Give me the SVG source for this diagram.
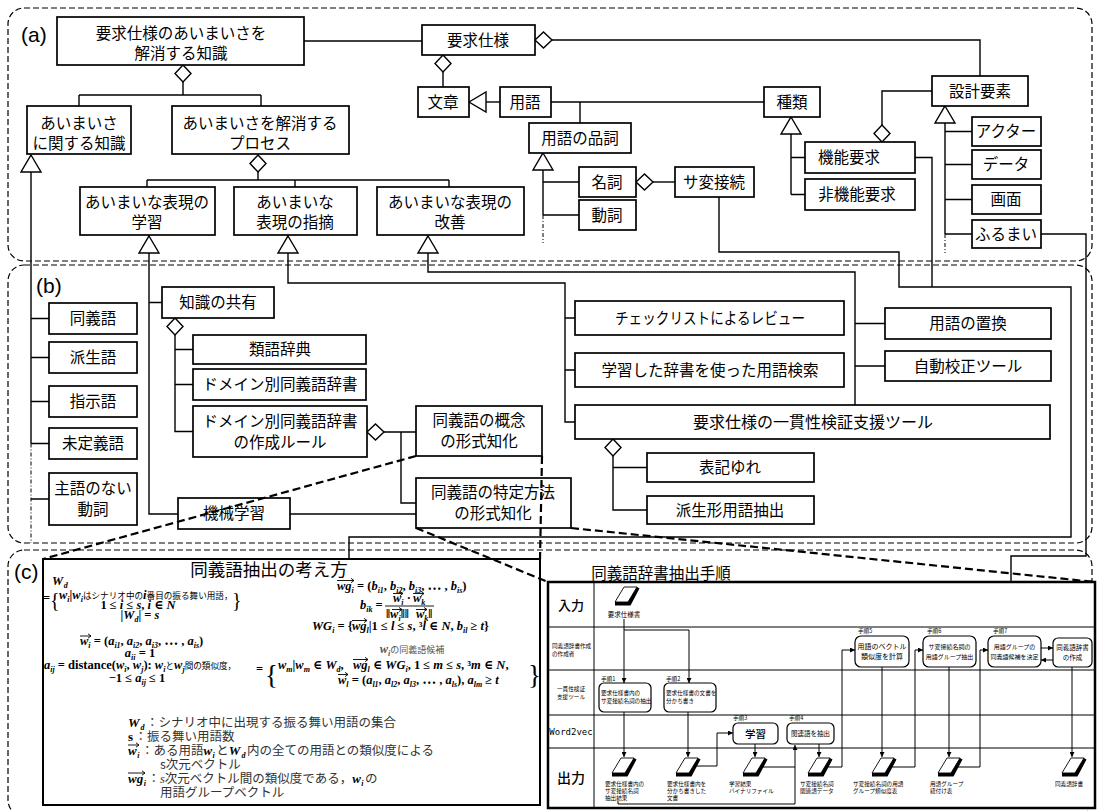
<svg xmlns="http://www.w3.org/2000/svg" width="1097" height="811" viewBox="0 0 1097 811">
<style>
.b{fill:#fff;stroke:#000;stroke-width:1.7}
.l{fill:none;stroke:#000;stroke-width:1.4}
.dd{fill:none;stroke:#000;stroke-width:1;stroke-dasharray:4 2 1 2}
.p{fill:none;stroke:#000;stroke-width:1.2;stroke-dasharray:6 3}
.cd{fill:none;stroke:#000;stroke-width:2.2;stroke-dasharray:8 4}
text{font-family:"Noto Sans CJK JP","Noto Sans",sans-serif;fill:#000}
.t{font-size:15.5px;text-anchor:middle}
.lab{font-family:"Liberation Sans",Arial,sans-serif;font-size:21px}
.m{font-family:"Liberation Serif","DejaVu Serif","Noto Sans CJK JP",serif;font-weight:bold;font-style:italic;font-size:12.5px}
.m2{font-family:"Liberation Serif","DejaVu Serif","Noto Sans CJK JP",serif;font-weight:bold;font-style:italic;font-size:13px}
.n{font-style:normal}
.s{font-size:8px}
.j{font-family:"Noto Sans CJK JP",sans-serif;font-weight:normal;font-style:normal;font-size:8.6px}
.br{font-family:"Liberation Serif","DejaVu Serif",serif;font-size:20px;font-weight:normal;font-style:normal}
.lg{font-family:"Noto Sans CJK JP",sans-serif;font-weight:normal;font-style:normal;font-size:12.5px;fill:#333}
.va{fill:none;stroke:#000;stroke-width:0.9}
.fb{fill:#fff;stroke:#000;stroke-width:1.2}
.fl{fill:none;stroke:#000;stroke-width:1}
.fa{fill:none;stroke:#000;stroke-width:1;marker-end:url(#ar)}
.ft{font-size:5.6px}
.fc{font-size:6px;text-anchor:middle}
</style>
<defs>
<path id="tri" d="M0,0 L10,17 L-10,17 Z" fill="#fff" stroke="#000" stroke-width="1.4"/>
<path id="dia" d="M0,0 L8,8.5 L0,17 L-8,8.5 Z" fill="#fff" stroke="#000" stroke-width="1.4"/>
<g id="doc"><polygon points="9,0 22,0 13,15 0,15" fill="#fff" stroke="#000" stroke-width="0.9"/><polygon points="0,15 13,15 22,0 24.5,1.5 15.5,18.5 0,18.5" fill="#000"/></g>
<marker id="ar" viewBox="0 0 10 10" refX="10" refY="5" markerWidth="5" markerHeight="5" orient="auto"><path d="M0,0 L10,5 L0,10 Z" fill="#000"/></marker>
</defs>
<rect width="1097" height="811" fill="#fff"/>

<g id="panels">
<rect class="p" x="8" y="8" width="1084" height="253" rx="16"/>
<rect class="p" x="8" y="265" width="1084" height="278" rx="16"/>
<rect class="p" x="8" y="550" width="1084" height="266" rx="16"/>
<text class="lab" x="21" y="42">(a)</text>
<text class="lab" x="36" y="293">(b)</text>
<text class="lab" x="14" y="579">(c)</text>
</g>

<g id="connectors">
<path class="l" d="M304,41 H422"/>
<path class="l" d="M552,40 H980 V76"/>
<path class="l" d="M443,72 V87"/>
<path class="l" d="M183,82 V95 M79,95 H261 M79,95 V106 M261,95 V106"/>
<path class="l" d="M31,172 V443.5 M31,318.5 H49 M31,357.5 H49 M31,401.5 H49 M31,443.5 H49 M31,499 H49"/>
<path class="dd" d="M31,443.5 V543"/>
<path class="l" d="M258,172 V180 M147,180 H449 M147,180 V187 M295,180 V187 M449,180 V187"/>
<path class="l" d="M149,253 V514 H178 M149,302.5 H162"/>
<path class="l" d="M288,253 V283 H565 V422 H575 M565,318 H575 M565,370 H575"/>
<path class="l" d="M428,253 V272 H855 V405 M855,323.5 H885 M855,366 H885"/>
<path class="l" d="M486,102 H500"/>
<path class="l" d="M551,102 H764 M580,102 V123"/>
<path class="l" d="M543,170 V215 M543,182 H579 M543,215 H579"/>
<path class="dd" d="M543,215 V243"/>
<path class="l" d="M653,182 H675"/>
<path class="l" d="M719,197 V252 H899 V287 H1071 V537 H349 V559"/>
<path class="l" d="M791,134 V194.5 M791,157.5 H805 M791,194.5 H805"/>
<path class="l" d="M932,91 H882 V125"/>
<path class="l" d="M915,157.5 H932 V287"/>
<path class="l" d="M945,123 V234 M945,131.5 H972 M945,164.5 H972 M945,199.5 H972 M945,234 H972"/>
<path class="dd" d="M945,234 V253"/>
<path class="l" d="M1041,234 H1086 V556 H1011 V582"/>
<path class="l" d="M175,335 V431.5 H193 M175,349.5 H193 M175,384.5 H193"/>
<path class="l" d="M384,432 H416 M401,432 V503 H416"/>
<path class="l" d="M290,514 H416"/>
<path class="l" d="M613,456 V510 H647 M613,467.5 H647"/>
<use href="#dia" x="183" y="65"/>
<use href="#dia" x="258" y="155"/>
<use href="#dia" x="443" y="55"/>
<use href="#dia" transform="translate(535,40) rotate(-90)"/>
<use href="#dia" transform="translate(636,182) rotate(-90)"/>
<use href="#dia" x="882" y="125"/>
<use href="#dia" x="175" y="318"/>
<use href="#dia" transform="translate(367,432) rotate(-90)"/>
<use href="#dia" x="613" y="439"/>
<use href="#tri" x="31" y="155"/>
<use href="#tri" x="149" y="236"/>
<use href="#tri" x="288" y="236"/>
<use href="#tri" x="428" y="236"/>
<use href="#tri" x="543" y="153"/>
<use href="#tri" x="791" y="117"/>
<use href="#tri" x="945" y="106"/>
<use href="#tri" transform="translate(469,102) rotate(-90)"/>
</g>

<g id="n_a1"><rect class="b" x="57" y="17" width="247" height="48"/><text class="t" x="181" y="39">要求仕様のあいまいさを<tspan x="181" dy="20">解消する知識</tspan></text></g>
<g id="n_spec"><rect class="b" x="422" y="25" width="113" height="30"/><text class="t" x="478" y="46">要求仕様</text></g>
<g id="n_a2"><rect class="b" x="27" y="106" width="104" height="48"/><text class="t" x="79" y="129">あいまいさ<tspan x="79" dy="20">に関する知識</tspan></text></g>
<g id="n_a3"><rect class="b" x="172" y="106" width="177" height="48"/><text class="t" x="260" y="129">あいまいさを解消する<tspan x="260" dy="20">プロセス</tspan></text></g>
<g id="n_learn"><rect class="b" x="80" y="187" width="135" height="48"/><text class="t" x="147" y="208">あいまいな表現の<tspan x="147" dy="20">学習</tspan></text></g>
<g id="n_point"><rect class="b" x="234" y="187" width="123" height="48"/><text class="t" x="295" y="208">あいまいな<tspan x="295" dy="20">表現の指摘</tspan></text></g>
<g id="n_improve"><rect class="b" x="377" y="187" width="147" height="48"/><text class="t" x="450" y="208">あいまいな表現の<tspan x="450" dy="20">改善</tspan></text></g>
<g id="n_sentence"><rect class="b" x="418" y="87" width="51" height="30"/><text class="t" x="443" y="108">文章</text></g>
<g id="n_term"><rect class="b" x="500" y="87" width="51" height="30"/><text class="t" x="525" y="108">用語</text></g>
<g id="n_kind"><rect class="b" x="764" y="87" width="56" height="30"/><text class="t" x="792" y="108">種類</text></g>
<g id="n_pos"><rect class="b" x="529" y="123" width="102" height="30"/><text class="t" x="580" y="144">用語の品詞</text></g>
<g id="n_noun"><rect class="b" x="579" y="167" width="57" height="30"/><text class="t" x="607" y="188">名詞</text></g>
<g id="n_verb"><rect class="b" x="579" y="200" width="57" height="30"/><text class="t" x="607" y="221">動詞</text></g>
<g id="n_sahen"><rect class="b" x="675" y="167" width="79" height="30"/><text class="t" x="714" y="188">サ変接続</text></g>
<g id="n_func"><rect class="b" x="805" y="142" width="110" height="31"/><text class="t" x="849" y="163">機能要求</text></g>
<g id="n_nonfunc"><rect class="b" x="805" y="179" width="110" height="31"/><text class="t" x="857" y="200">非機能要求</text></g>
<g id="n_design"><rect class="b" x="932" y="76" width="96" height="30"/><text class="t" x="980" y="97">設計要素</text></g>
<g id="n_actor"><rect class="b" x="972" y="117" width="69" height="29"/><text class="t" x="1006" y="137">アクター</text></g>
<g id="n_data"><rect class="b" x="972" y="150" width="69" height="29"/><text class="t" x="1006" y="170">データ</text></g>
<g id="n_screen"><rect class="b" x="972" y="185" width="69" height="29"/><text class="t" x="1006" y="205">画面</text></g>
<g id="n_behavior"><rect class="b" x="972" y="220" width="69" height="28"/><text class="t" x="1006" y="240">ふるまい</text></g>

<g id="n_syn"><rect class="b" x="49" y="303" width="88" height="31"/><text class="t" x="93" y="324">同義語</text></g>
<g id="n_deriv"><rect class="b" x="49" y="342" width="88" height="31"/><text class="t" x="93" y="363">派生語</text></g>
<g id="n_demo"><rect class="b" x="49" y="386" width="88" height="31"/><text class="t" x="93" y="407">指示語</text></g>
<g id="n_undef"><rect class="b" x="49" y="428" width="88" height="31"/><text class="t" x="93" y="449">未定義語</text></g>
<g id="n_nosubj"><rect class="b" x="49" y="473" width="88" height="52"/><text class="t" x="93" y="494">主語のない<tspan x="93" dy="21">動詞</tspan></text></g>
<g id="n_share"><rect class="b" x="162" y="287" width="112" height="31"/><text class="t" x="218" y="308">知識の共有</text></g>
<g id="n_thes"><rect class="b" x="193" y="335" width="173" height="29"/><text class="t" x="280" y="355">類語辞典</text></g>
<g id="n_domdict"><rect class="b" x="193" y="369" width="173" height="31"/><text class="t" x="280" y="390">ドメイン別同義語辞書</text></g>
<g id="n_rule"><rect class="b" x="193" y="406" width="174" height="51"/><text class="t" x="280" y="427">ドメイン別同義語辞書<tspan x="280" dy="21">の作成ルール</tspan></text></g>
<g id="n_ml"><rect class="b" x="178" y="498" width="112" height="31"/><text class="t" x="234" y="519">機械学習</text></g>
<g id="n_concept"><rect class="b" x="416" y="406" width="126" height="50"/><text class="t" x="479" y="426">同義語の概念<tspan x="479" dy="21">の形式知化</tspan></text></g>
<g id="n_method"><rect class="b" x="416" y="478" width="155" height="50"/><text class="t" x="493" y="498">同義語の特定方法<tspan x="493" dy="21">の形式知化</tspan></text></g>
<g id="n_check"><rect class="b" x="575" y="301" width="269" height="34"/><text class="t" x="710" y="324" textLength="190" lengthAdjust="spacingAndGlyphs">チェックリストによるレビュー</text></g>
<g id="n_search"><rect class="b" x="575" y="353" width="269" height="34"/><text class="t" x="710" y="376">学習した辞書を使った用語検索</text></g>
<g id="n_consist"><rect class="b" x="575" y="405" width="475" height="34"/><text class="t" x="813" y="428" style="font-size:16px">要求仕様の一貫性検証支援ツール</text></g>
<g id="n_replace"><rect class="b" x="885" y="308" width="166" height="31"/><text class="t" x="968" y="329">用語の置換</text></g>
<g id="n_autocorr"><rect class="b" x="885" y="351" width="166" height="30"/><text class="t" x="968" y="372">自動校正ツール</text></g>
<g id="n_hyoki"><rect class="b" x="647" y="453" width="167" height="29"/><text class="t" x="730" y="473">表記ゆれ</text></g>
<g id="n_hasei"><rect class="b" x="647" y="496" width="167" height="28"/><text class="t" x="730" y="516">派生形用語抽出</text></g>

<g id="n_idea">
<rect x="43" y="559" width="497" height="246" fill="#fff" stroke="#000" stroke-width="2"/>
<text x="269" y="576" style="font-size:17.5px;text-anchor:middle">同義語抽出の考え方</text>
<text class="m" x="52" y="585">W<tspan class="s" dy="3" dx="0.5">d</tspan></text>
<text class="m n" x="43" y="602">=</text>
<text class="br" x="50" y="607">{</text>
<text class="m" x="59" y="599">w<tspan class="s" dy="3">i</tspan><tspan class="n" dy="-3">|</tspan><tspan>w</tspan><tspan class="s" dy="3">i</tspan><tspan class="j" dy="-3">はシナリオ中の</tspan><tspan>i</tspan><tspan class="j">番目の振る舞い用語，</tspan></text>
<text class="br" x="232" y="607">}</text>
<text class="m" x="138" y="609" text-anchor="middle"><tspan class="n">1 ≤ </tspan>i<tspan class="n"> ≤ </tspan>s<tspan class="n">, </tspan>i<tspan class="n"> ∈ </tspan>N</text>
<text class="m" x="140" y="619" text-anchor="middle"><tspan class="n">|</tspan>W<tspan class="s" dy="3">d</tspan><tspan class="n" dy="-3">| = </tspan>s</text>

<text class="m" x="80" y="645">w<tspan class="s" dy="3">i</tspan><tspan class="n" dy="-3"> = (</tspan><tspan>a</tspan><tspan class="s" dy="3">i1</tspan><tspan class="n" dy="-3">, </tspan><tspan>a</tspan><tspan class="s" dy="3">i2</tspan><tspan class="n" dy="-3">, </tspan><tspan>a</tspan><tspan class="s" dy="3">i3</tspan><tspan class="n" dy="-3">, ⋯ , </tspan><tspan>a</tspan><tspan class="s" dy="3">is</tspan><tspan class="n" dy="-3">)</tspan></text>
<path class="va" d="M80,636 h11 m-3,-2.2 l3,2.2 l-3,2.2"/>
<text class="m" x="140" y="657" text-anchor="middle">a<tspan class="s" dy="3">ii</tspan><tspan class="n" dy="-3"> = 1</tspan></text>
<text class="m" x="44" y="669">a<tspan class="s" dy="3">ij</tspan><tspan class="n" dy="-3"> = distance(</tspan><tspan>w</tspan><tspan class="s" dy="3">i</tspan><tspan class="n" dy="-3">, </tspan><tspan>w</tspan><tspan class="s" dy="3">j</tspan><tspan class="n" dy="-3">): </tspan><tspan>w</tspan><tspan class="s" dy="3">i</tspan><tspan class="j" dy="-3">と</tspan><tspan>w</tspan><tspan class="s" dy="3">j</tspan><tspan class="j" dy="-3">間の類似度，</tspan></text>
<text class="m" x="137" y="682" text-anchor="middle"><tspan class="n">−1 ≤ </tspan>a<tspan class="s" dy="3">ij</tspan><tspan class="n" dy="-3"> ≤ 1</tspan></text>

<text class="m" x="337" y="590">wg<tspan class="s" dy="3">i</tspan><tspan class="n" dy="-3"> = (</tspan><tspan>b</tspan><tspan class="s" dy="3">i1</tspan><tspan class="n" dy="-3">, </tspan><tspan>b</tspan><tspan class="s" dy="3">i2</tspan><tspan class="n" dy="-3">, </tspan><tspan>b</tspan><tspan class="s" dy="3">i3</tspan><tspan class="n" dy="-3">, ⋯ , </tspan><tspan>b</tspan><tspan class="s" dy="3">is</tspan><tspan class="n" dy="-3">)</tspan></text>
<path class="va" d="M337,580.5 h17 m-3,-2.2 l3,2.2 l-3,2.2"/>
<text class="m" x="360" y="609">b<tspan class="s" dy="3">ik</tspan><tspan class="n" dy="-3"> =</tspan></text>
<text class="m" x="393" y="602">w<tspan class="s" dy="3">i</tspan><tspan class="n" dy="-3"> · </tspan><tspan x="413">w</tspan><tspan class="s" dy="3">k</tspan></text>
<path class="va" d="M393,593.5 h10 m-3,-2.2 l3,2.2 l-3,2.2 M413,593.5 h11 m-3,-2.2 l3,2.2 l-3,2.2"/>
<path class="va" d="M385,606 H434"/>
<text class="m" x="386" y="618"><tspan class="n">‖</tspan>w<tspan class="s" dy="3">i</tspan><tspan class="n" dy="-3">‖‖</tspan><tspan x="416">w</tspan><tspan class="s" dy="3">k</tspan><tspan class="n" dy="-3">‖</tspan></text>
<path class="va" d="M392,609.5 h10 m-3,-2 l3,2 l-3,2 M416,609.5 h11 m-3,-2 l3,2 l-3,2"/>
<text class="m" x="312" y="630">WG<tspan class="s" dy="3">i</tspan><tspan class="n" dy="-3"> = {</tspan><tspan x="352">wg</tspan><tspan class="s" dy="3">l</tspan><tspan class="n" dy="-3">|1 ≤ </tspan><tspan>l</tspan><tspan class="n"> ≤ </tspan><tspan>s</tspan><tspan class="n">, ³</tspan><tspan>l</tspan><tspan class="n"> ∈ </tspan><tspan>N</tspan><tspan class="n">, </tspan><tspan>b</tspan><tspan class="s" dy="3">il</tspan><tspan class="n" dy="-3"> ≥ </tspan><tspan>t</tspan><tspan class="n">}</tspan></text>
<path class="va" d="M352,620.5 h15 m-3,-2.2 l3,2.2 l-3,2.2"/>

<text class="m" x="412" y="653" text-anchor="middle" style="fill:#555">w<tspan class="s" dy="3">i</tspan><tspan class="j" dy="-3" style="font-size:9px">の同義語候補</tspan></text>
<text class="m n" x="256" y="673">=</text>
<text class="br" x="265" y="684" style="font-size:27px">{</text>
<text class="m" x="278" y="669">w<tspan class="s" dy="3">m</tspan><tspan class="n" dy="-3">|</tspan><tspan>w</tspan><tspan class="s" dy="3">m</tspan><tspan class="n" dy="-3"> ∈ </tspan><tspan>W</tspan><tspan class="s" dy="3">d</tspan><tspan class="n" dy="-3">, </tspan><tspan x="353">wg</tspan><tspan class="s" dy="3">l</tspan><tspan class="n" dy="-3"> ∈ </tspan><tspan>WG</tspan><tspan class="s" dy="3">i</tspan><tspan class="n" dy="-3">, 1 ≤ </tspan><tspan>m</tspan><tspan class="n"> ≤ </tspan><tspan>s</tspan><tspan class="n">, ³</tspan><tspan>m</tspan><tspan class="n"> ∈ </tspan><tspan>N</tspan><tspan class="n">,</tspan></text>
<path class="va" d="M353,659.5 h15 m-3,-2.2 l3,2.2 l-3,2.2"/>
<text class="m" x="338" y="684">w<tspan class="s" dy="3">l</tspan><tspan class="n" dy="-3"> = (</tspan><tspan>a</tspan><tspan class="s" dy="3">l1</tspan><tspan class="n" dy="-3">, </tspan><tspan>a</tspan><tspan class="s" dy="3">l2</tspan><tspan class="n" dy="-3">, </tspan><tspan>a</tspan><tspan class="s" dy="3">l3</tspan><tspan class="n" dy="-3">, ⋯ , </tspan><tspan>a</tspan><tspan class="s" dy="3">ls</tspan><tspan class="n" dy="-3">), </tspan><tspan>a</tspan><tspan class="s" dy="3">lm</tspan><tspan class="n" dy="-3"> ≥ </tspan><tspan>t</tspan></text>
<path class="va" d="M338,674.5 h10 m-3,-2.2 l3,2.2 l-3,2.2"/>
<text class="br" x="528" y="684" style="font-size:27px">}</text>

<text class="m2" x="128" y="727">W<tspan class="s" dy="3" dx="1">d</tspan><tspan class="lg" dy="-3" dx="1.5">：シナリオ中に出現する振る舞い用語の集合</tspan></text>
<text class="m2 n" x="128" y="741">s<tspan class="lg" dx="1.5">：振る舞い用語数</tspan></text>
<text class="m2" x="128" y="755">w<tspan class="s" dy="3" dx="0.5">i</tspan><tspan class="lg" dy="-3" dx="1.5">：ある用語</tspan><tspan>w</tspan><tspan class="s" dy="3" dx="0.5">i</tspan><tspan class="lg" dy="-3" dx="1.5">と</tspan><tspan>W</tspan><tspan class="s" dy="3" dx="1">d</tspan><tspan class="lg" dy="-3" dx="1.5">内の全ての用語との類似度による</tspan></text>
<path class="va" d="M128,745 h11 m-3,-2.2 l3,2.2 l-3,2.2"/>
<text class="lg" x="160" y="769">s次元ベクトル</text>
<text class="m2" x="128" y="783">wg<tspan class="s" dy="3" dx="0.5">i</tspan><tspan class="lg" dy="-3" dx="1.5">：<tspan style="font-family:'Liberation Serif',serif;font-style:italic">s</tspan>次元ベクトル間の類似度である，</tspan><tspan>w</tspan><tspan class="s" dy="3" dx="0.5">i</tspan><tspan class="lg" dy="-3" dx="1.5">の</tspan></text>
<path class="va" d="M128,773 h17 m-3,-2.2 l3,2.2 l-3,2.2"/>
<text class="lg" x="160" y="797">用語グループベクトル</text>
</g>

<g id="n_procedure">
<text x="661" y="579" style="font-size:15.5px;text-anchor:middle">同義語辞書抽出手順</text>
<rect x="548" y="582" width="547" height="226" fill="#fff" stroke="#000" stroke-width="2.5"/>
<path class="fl" d="M548,627 H1095 M548,670 H1095 M548,715 H1095 M548,748 H1095 M594,582 V808"/>
<text x="571" y="610" style="font-size:13px;font-weight:500;text-anchor:middle">入力</text>
<text class="ft" x="552" y="648">同義語辞書作成</text>
<text class="ft" x="552" y="656">の作成者</text>
<text class="fc" x="571" y="691" style="font-size:5.6px">一貫性検証</text>
<text class="fc" x="571" y="699" style="font-size:5.6px">支援ツール</text>
<text x="571" y="735" style="font-family:'DejaVu Sans Mono','Liberation Mono',monospace;font-size:9px;text-anchor:middle">Word2vec</text>
<text x="571" y="783" style="font-size:14px;font-weight:500;text-anchor:middle">出力</text>
</g>

<g id="flow_connectors">
<path class="fa" d="M624,619 V683"/>
<path class="fa" d="M624,630 H689 V683"/>
<path class="fa" d="M624,712 V757"/>
<path class="fa" d="M688,712 V757"/>
<path class="fa" d="M695,766 H717 V733 H733"/>
<path class="fa" d="M755,744 V757"/>
<path class="fa" d="M762,767 H795 V745"/>
<path class="fl" d="M618,801 V804 H795 V767"/>
<path class="fa" d="M819,744 V757"/>
<path class="fa" d="M827,767 H842 V650 H855"/>
<path class="fa" d="M882,667 V757"/>
<path class="fa" d="M891,767 H915 V650 H923"/>
<path class="fa" d="M949,667 V757"/>
<path class="fa" d="M957,767 H980 V650 H988"/>
<path class="fa" d="M1041,648 H1053"/>
<path class="fa" d="M1053,660 H1041"/>
<path class="fa" d="M1072,667 V757"/>
</g>

<g id="n_doc_in"><use href="#doc" x="615" y="587"/><text class="fc" x="624" y="617" style="font-size:6.5px">要求仕様書</text></g>
<g id="n_step1"><text class="ft" x="601" y="681">手順1</text><rect class="fb" x="599" y="683" width="52" height="29" rx="5"/><text class="ft" x="601" y="695">要求仕様書内の</text><text class="ft" x="601" y="703">サ変接続名詞の抽出</text></g>
<g id="n_step2"><text class="ft" x="666" y="681">手順2</text><rect class="fb" x="664" y="683" width="52" height="29" rx="5"/><text class="ft" x="666" y="695">要求仕様書の文書を</text><text class="ft" x="666" y="703">分かち書き</text></g>
<g id="n_step3"><text class="ft" x="733" y="720">手順3</text><rect class="fb" x="733" y="723" width="45" height="21" rx="5"/><text x="755.5" y="738" style="font-size:10.5px;font-weight:500;text-anchor:middle">学習</text></g>
<g id="n_step4"><text class="ft" x="789" y="720">手順4</text><rect class="fb" x="787" y="723" width="47" height="21" rx="5"/><text class="fc" x="810.5" y="736" style="font-size:6.5px">関連語を抽出</text></g>
<g id="n_step5"><text class="ft" x="858" y="633">手順5</text><rect class="fb" x="855" y="636" width="54" height="31" rx="6"/><text class="fc" x="882" y="649" style="font-size:7px">用語のベクトル</text><text class="fc" x="882" y="659" style="font-size:7px">類似度を計算</text></g>
<g id="n_step6"><text class="ft" x="927" y="633">手順6</text><rect class="fb" x="923" y="636" width="53" height="31" rx="6"/><text class="fc" x="949.5" y="649">サ変接続名詞の</text><text class="fc" x="949.5" y="659">用語グループ抽出</text></g>
<g id="n_step7"><text class="ft" x="993" y="633">手順7</text><rect class="fb" x="988" y="636" width="53" height="31" rx="6"/><text class="fc" x="1014.5" y="649">用語グループの</text><text class="fc" x="1014.5" y="659">同義語候補を決定</text></g>
<g id="n_make"><rect class="fb" x="1053" y="638" width="39" height="29" rx="5"/><text class="fc" x="1072.5" y="650" style="font-size:6.5px">同義語辞書</text><text class="fc" x="1072.5" y="660" style="font-size:6.5px">の作成</text></g>
<g id="n_out1"><use href="#doc" x="612" y="758"/><text class="ft" x="605" y="786">要求仕様書内の</text><text class="ft" x="605" y="793">サ変接続名詞</text><text class="ft" x="605" y="800">抽出結果</text></g>
<g id="n_out2"><use href="#doc" x="676" y="758"/><text class="ft" x="667" y="786">要求仕様書内を</text><text class="ft" x="667" y="793">分かち書きした</text><text class="ft" x="667" y="800">文書</text></g>
<g id="n_out3"><use href="#doc" x="743" y="758"/><text class="ft" x="729" y="786">学習結果</text><text class="ft" x="729" y="793">バイナリファイル</text></g>
<g id="n_out4"><use href="#doc" x="808" y="758"/><text class="ft" x="800" y="786">サ変接続名詞</text><text class="ft" x="800" y="793">関連語データ</text></g>
<g id="n_out5"><use href="#doc" x="872" y="758"/><text class="ft" x="853" y="786">サ変接続名詞の用語</text><text class="ft" x="853" y="793">グループ類似度表</text></g>
<g id="n_out6"><use href="#doc" x="938" y="758"/><text class="ft" x="930" y="786">用語グループ</text><text class="ft" x="930" y="793">紐付け表</text></g>
<g id="n_out7"><use href="#doc" x="1062" y="758"/><text class="ft" x="1055" y="786">同義語辞書</text></g>

<g id="callouts">
<path class="cd" d="M416,456 L43,559"/>
<path class="cd" d="M542,456 L540,559"/>
<path class="cd" d="M416,528 L548,582"/>
<path class="cd" d="M571,528 L1095,582"/>
</g>
</svg>
